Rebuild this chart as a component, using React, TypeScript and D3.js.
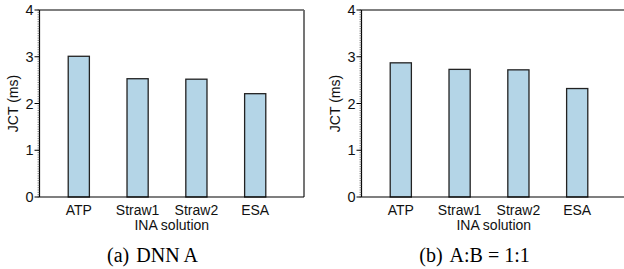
import React from 'react';
import * as d3 from 'd3';

const solutions = ['ATP', 'Straw1', 'Straw2', 'ESA'];
const jctDnnA = [3.01, 2.53, 2.52, 2.21];
const jctMixed = [2.87, 2.73, 2.72, 2.32];
const yTicks = [0, 1, 2, 3, 4];

const panels = [
  { values: jctDnnA, caption: '(a)', captionText: 'DNN A', dx: 0 },
  { values: jctMixed, caption: '(b)', captionText: 'A:B = 1:1', dx: 322 },
];

const plotLeft = 39.5;
const plotRight = 304;
const plotTop = 10;
const plotBottom = 197;

const sans = '"Liberation Sans", Arial, Helvetica, sans-serif';
const serif = '"Liberation Serif", "Times New Roman", serif';
const fs = 14;

const y = d3.scaleLinear().domain([0, 4]).range([plotBottom, plotTop]);
const x = d3
  .scaleBand<string>()
  .domain(solutions)
  .range([plotLeft + 9.9, plotLeft + 9.9 + 58.8 * 4])
  .paddingInner(0.64)
  .paddingOuter(0.32);

const minorTicks = d3.range(0, 4.0001, 0.05);

const Panel: React.FC<{ values: number[]; caption: string; captionText: string; dx: number }> = ({
  values,
  caption,
  captionText,
  dx,
}) => (
  <g transform={`translate(${dx},0)`}>
    {/* bars */}
    {solutions.map((s, i) => (
      <rect
        key={s}
        x={x(s)}
        y={y(values[i])}
        width={x.bandwidth()}
        height={y(0) - y(values[i])}
        fill="#b4d5e7"
        stroke="#222"
        strokeWidth={1.3}
      />
    ))}
    {/* frame */}
    <line x1={plotLeft} x2={plotRight} y1={plotTop} y2={plotTop} stroke="#000" strokeWidth={1.2} />
    <line x1={plotRight} x2={plotRight} y1={plotTop} y2={plotBottom} stroke="#666" strokeWidth={1.8} />
    <line x1={plotLeft} x2={plotRight} y1={plotBottom} y2={plotBottom} stroke="#000" strokeWidth={1.2} />
    <line x1={plotLeft} x2={plotLeft} y1={plotTop} y2={plotBottom} stroke="#000" strokeWidth={1.2} />
    {/* minor ticks */}
    {minorTicks.map((t) => (
      <line key={t} x1={plotLeft - 2} x2={plotLeft} y1={y(t)} y2={y(t)} stroke="#555" strokeWidth={0.7} />
    ))}
    {/* major ticks */}
    {yTicks.map((t) => (
      <g key={t}>
        <line x1={plotLeft - 5} x2={plotLeft} y1={y(t)} y2={y(t)} stroke="#000" strokeWidth={1} />
        <text
          x={plotLeft - 6}
          y={y(t)}
          dy="0.36em"
          textAnchor="end"
          fontFamily={sans}
          fontSize={14.5}
          fill="#111"
        >
          {t}
        </text>
      </g>
    ))}
    {/* x tick labels */}
    {solutions.map((s) => (
      <text
        key={s}
        x={(x(s) ?? 0) + x.bandwidth() / 2}
        y={215}
        textAnchor="middle"
        fontFamily={sans}
        fontSize={fs}
        fill="#111"
      >
        {s}
      </text>
    ))}
    <text x={(plotLeft + plotRight) / 2} y={230} textAnchor="middle" fontFamily={sans} fontSize={fs} fill="#111">
      INA solution
    </text>
    <text
      transform={`translate(18,${(plotTop + plotBottom) / 2}) rotate(-90)`}
      textAnchor="middle"
      fontFamily={sans}
      fontSize={fs}
      fill="#111"
    >
      JCT (ms)
    </text>
    {/* caption */}
    <text x={152.5} y={262} textAnchor="middle" fontFamily={serif} fontSize={20} fill="#000">
      {caption}
      <tspan dx={7}>{captionText}</tspan>
    </text>
  </g>
);

const App: React.FC = () => (
  <svg
    width={624}
    height={269}
    viewBox="0 0 624 269"
    style={{ position: 'absolute', left: 0, top: 0, background: '#fff' }}
  >
    {panels.map((p) => (
      <Panel key={p.caption} {...p} />
    ))}
  </svg>
);

export default App;
